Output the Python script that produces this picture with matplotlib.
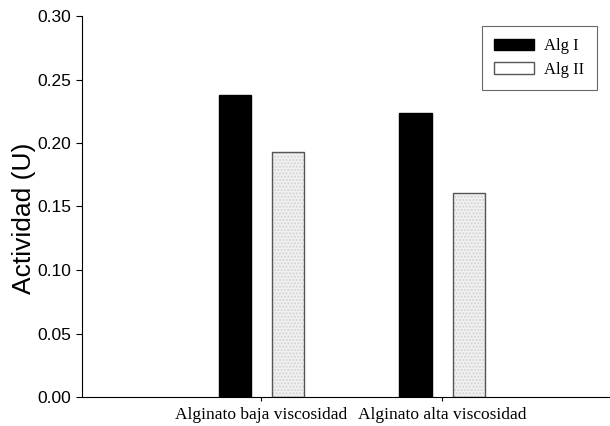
import numpy as np
import matplotlib.pyplot as plt

# Activity of the two alginate lyases on each substrate
categories = ['Alginato baja viscosidad', 'Alginato alta viscosidad']
alg_i = [0.238, 0.224]
alg_ii = [0.193, 0.161]

x = np.arange(len(categories))
width = 0.178
offset = 0.147

fig = plt.figure(figsize=(6.1, 4.26), dpi=100)
ax = fig.add_axes([82 / 610, 29 / 426, 528 / 610, 381 / 426])

ax.bar(x - offset, alg_i, width, color='black', edgecolor='black', label='Alg I')
# light stippled fill, then a plain outline on top
ax.bar(x + offset, alg_ii, width, color='#f1f1f1', edgecolor='#d2d2d2',
       linewidth=0, hatch='.....')
ax.bar(x + offset, alg_ii, width, fill=False, edgecolor='#555555',
       linewidth=1.0, label='Alg II')

ax.set_xlim(-0.994, 1.93)
ax.set_ylim(0, 0.30)
ax.set_yticks(np.arange(0, 0.31, 0.05))
ax.set_yticklabels(['%.2f' % v for v in np.arange(0, 0.31, 0.05)],
                   family='Liberation Sans', fontsize=12.5)
ax.set_xticks(x)
ax.set_xticklabels(categories, family='Liberation Serif', fontsize=12.5)
ax.tick_params(axis='y', direction='out', length=4, width=0.8, pad=4)
ax.tick_params(axis='x', direction='out', length=3, width=0.8, pad=4)
ax.set_ylabel('Actividad (U)', family='Liberation Sans', fontsize=19)
ax.yaxis.set_label_coords(-0.088, 0.47)

for side in ['top', 'right']:
    ax.spines[side].set_visible(False)
for side in ['left', 'bottom']:
    ax.spines[side].set_linewidth(0.8)

leg = ax.legend(loc='upper right', bbox_to_anchor=(0.975, 0.974),
                borderaxespad=0,
                prop={'family': 'Liberation Serif', 'size': 12},
                fancybox=False, edgecolor='#444444', handlelength=2.4,
                handleheight=0.7, handletextpad=0.6, borderpad=0.75,
                labelspacing=0.45)
leg.get_frame().set_linewidth(0.8)

fig.savefig('out.png', dpi=100)
